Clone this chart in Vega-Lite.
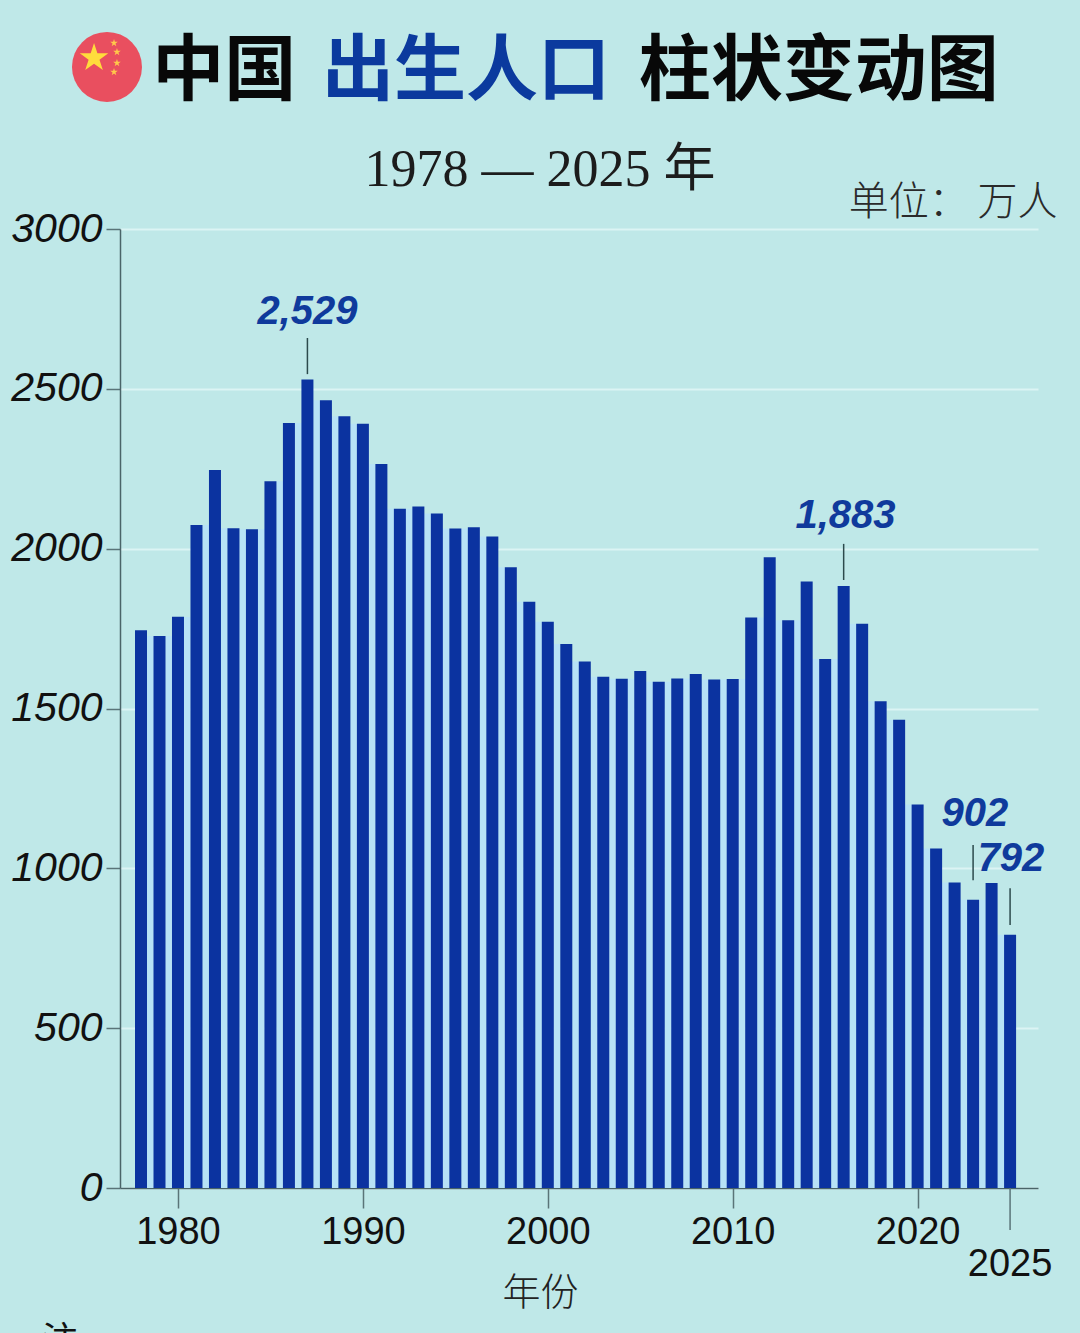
{
  "$schema": "https://vega.github.io/schema/vega-lite/v6.json",
  "width": 918,
  "height": 959,
  "autosize": "none",
  "padding": {"left": 120, "top": 229, "right": 42, "bottom": 145},
  "background": "#bfe8e8",
  "config": {"view": {"stroke": null}},
  "datasets": {
    "births": [
      {"year": 1978, "value": 1745}, {"year": 1979, "value": 1727}, {"year": 1980, "value": 1787},
      {"year": 1981, "value": 2074}, {"year": 1982, "value": 2246}, {"year": 1983, "value": 2064},
      {"year": 1984, "value": 2061}, {"year": 1985, "value": 2211}, {"year": 1986, "value": 2393},
      {"year": 1987, "value": 2529}, {"year": 1988, "value": 2464}, {"year": 1989, "value": 2414},
      {"year": 1990, "value": 2391}, {"year": 1991, "value": 2265}, {"year": 1992, "value": 2125},
      {"year": 1993, "value": 2132}, {"year": 1994, "value": 2110}, {"year": 1995, "value": 2063},
      {"year": 1996, "value": 2067}, {"year": 1997, "value": 2038}, {"year": 1998, "value": 1942},
      {"year": 1999, "value": 1834}, {"year": 2000, "value": 1771}, {"year": 2001, "value": 1702},
      {"year": 2002, "value": 1647}, {"year": 2003, "value": 1599}, {"year": 2004, "value": 1593},
      {"year": 2005, "value": 1617}, {"year": 2006, "value": 1584}, {"year": 2007, "value": 1594},
      {"year": 2008, "value": 1608}, {"year": 2009, "value": 1591}, {"year": 2010, "value": 1592},
      {"year": 2011, "value": 1785}, {"year": 2012, "value": 1973}, {"year": 2013, "value": 1776},
      {"year": 2014, "value": 1897}, {"year": 2015, "value": 1655}, {"year": 2016, "value": 1883},
      {"year": 2017, "value": 1765}, {"year": 2018, "value": 1523}, {"year": 2019, "value": 1465},
      {"year": 2020, "value": 1200}, {"year": 2021, "value": 1062}, {"year": 2022, "value": 956},
      {"year": 2023, "value": 902}, {"year": 2024, "value": 954}, {"year": 2025, "value": 792}
    ],
    "gaps": [
      {"year": 1978.5, "value": 1727}, {"year": 1979.5, "value": 1727}, {"year": 1980.5, "value": 1786},
      {"year": 1981.5, "value": 2074}, {"year": 1982.5, "value": 2064}, {"year": 1983.5, "value": 2061},
      {"year": 1984.5, "value": 2061}, {"year": 1985.5, "value": 2211}, {"year": 1986.5, "value": 2393},
      {"year": 1987.5, "value": 2464}, {"year": 1988.5, "value": 2414}, {"year": 1989.5, "value": 2391},
      {"year": 1990.5, "value": 2265}, {"year": 1991.5, "value": 2125}, {"year": 1992.5, "value": 2125},
      {"year": 1993.5, "value": 2110}, {"year": 1994.5, "value": 2063}, {"year": 1995.5, "value": 2063},
      {"year": 1996.5, "value": 2038}, {"year": 1997.5, "value": 1942}, {"year": 1998.5, "value": 1834},
      {"year": 1999.5, "value": 1771}, {"year": 2000.5, "value": 1702}, {"year": 2001.5, "value": 1647},
      {"year": 2002.5, "value": 1599}, {"year": 2003.5, "value": 1593}, {"year": 2004.5, "value": 1593},
      {"year": 2005.5, "value": 1584}, {"year": 2006.5, "value": 1584}, {"year": 2007.5, "value": 1594},
      {"year": 2008.5, "value": 1591}, {"year": 2009.5, "value": 1591}, {"year": 2010.5, "value": 1592},
      {"year": 2011.5, "value": 1785}, {"year": 2012.5, "value": 1776}, {"year": 2013.5, "value": 1776},
      {"year": 2014.5, "value": 1655}, {"year": 2015.5, "value": 1655}, {"year": 2016.5, "value": 1765},
      {"year": 2017.5, "value": 1523}, {"year": 2018.5, "value": 1465}, {"year": 2019.5, "value": 1200},
      {"year": 2020.5, "value": 1062}, {"year": 2021.5, "value": 956}, {"year": 2022.5, "value": 902},
      {"year": 2023.5, "value": 902}, {"year": 2024.5, "value": 792}
    ],
    "leaders": [
      {"year": 1987, "value": 2546, "end": 2659},
      {"year": 2016, "value": 1902, "end": 2015},
      {"year": 2023, "value": 963, "end": 1073},
      {"year": 2025, "value": 823, "end": 938}
    ],
    "callouts": [
      {"year": 1987, "value": 2702, "label": "2,529"},
      {"year": 2016.1, "value": 2064, "label": "1,883"},
      {"year": 2023.1, "value": 1132, "label": "902"},
      {"year": 2025.05, "value": 991, "label": "792"}
    ],
    "titleBlack": [
      {"year": 1982.5, "value": 3492, "label": "中国"},
      {"year": 2014.65, "value": 3492, "label": "柱状变动图"}
    ],
    "titleBlue": [
      {"year": 1995.58, "value": 3492, "label": "出生人口"}
    ],
    "subtitle": [{"year": 1999.58, "value": 3184.5, "label": "1978 — 2025 年"}],
    "unit": [{"year": 2021.92, "value": 3082, "label": "单位： 万人"}],
    "note": [{"year": 1973.62, "value": -481, "label": "注"}],
    "tick2025": [{"year": 2025, "value": 0, "end": -131}],
    "label2025": [{"year": 2025, "value": -275, "label": "2025"}],
    "flag": [{"year": 1976.16, "value": 3507}],
    "bigStar": [{"year": 1975.46, "value": 3535}],
    "smallStars": [
      {"year": 1976.54, "value": 3582},
      {"year": 1976.7, "value": 3554},
      {"year": 1976.7, "value": 3519},
      {"year": 1976.54, "value": 3491}
    ]
  },
  "encoding": {
    "x": {
      "field": "year",
      "type": "quantitative",
      "scale": {"domain": [1976.864, 2026.51], "nice": false, "zero": false, "padding": 0},
      "axis": {
        "values": [1980, 1990, 2000, 2010, 2020],
        "format": "d",
        "grid": false,
        "tickSize": 20,
        "tickColor": "#5a7478",
        "tickWidth": 1.5,
        "domainColor": "#4a6468",
        "domainWidth": 1.5,
        "labelFont": "Liberation Sans",
        "labelFontSize": 38,
        "labelColor": "#111111",
        "labelPadding": 5,
        "labelFlush": false,
        "labelOverlap": false,
        "title": "年份",
        "titleFont": "Noto Sans CJK SC",
        "titleFontSize": 38,
        "titleFontWeight": 300,
        "titleColor": "#222222",
        "titleX": 420,
        "titleY": 116,
        "titleBaseline": "alphabetic"
      }
    },
    "y": {
      "field": "value",
      "type": "quantitative",
      "scale": {"domain": [0, 3000], "nice": false},
      "axis": {
        "values": [0, 500, 1000, 1500, 2000, 2500, 3000],
        "grid": true,
        "gridColor": "#dcf4f4",
        "gridWidth": 2,
        "tickSize": 14,
        "tickColor": "#5a7478",
        "tickWidth": 1.5,
        "domainColor": "#4a6468",
        "domainWidth": 1.5,
        "labelFont": "Liberation Sans",
        "labelFontStyle": "italic",
        "labelFontSize": 41,
        "labelColor": "#111111",
        "labelPadding": 4,
        "labelOverlap": false,
        "format": "d",
        "title": null
      }
    }
  },
  "layer": [
    {
      "data": {"name": "gaps"},
      "mark": {"type": "bar", "orient": "vertical", "size": 7, "color": "#b7e2f6"}
    },
    {
      "data": {"name": "births"},
      "mark": {"type": "bar", "orient": "vertical", "size": 12, "color": "#0b33a0"}
    },
    {
      "data": {"name": "leaders"},
      "mark": {"type": "rule", "color": "#2c4a4c", "strokeWidth": 1.5},
      "encoding": {"y2": {"field": "end"}}
    },
    {
      "data": {"name": "callouts"},
      "mark": {"type": "text", "font": "Liberation Sans", "fontSize": 40, "fontWeight": "bold", "fontStyle": "italic", "color": "#0f3a9c", "baseline": "alphabetic"},
      "encoding": {"text": {"field": "label"}}
    },
    {
      "data": {"name": "tick2025"},
      "mark": {"type": "rule", "color": "#5a7478", "strokeWidth": 1.5},
      "encoding": {"y2": {"field": "end"}}
    },
    {
      "data": {"name": "label2025"},
      "mark": {"type": "text", "font": "Liberation Sans", "fontSize": 38, "color": "#111111", "baseline": "alphabetic"},
      "encoding": {"text": {"field": "label"}}
    },
    {
      "data": {"name": "titleBlack"},
      "mark": {"type": "text", "font": "Noto Sans CJK SC", "fontSize": 72, "fontWeight": "bold", "color": "#080808", "baseline": "middle"},
      "encoding": {"text": {"field": "label"}}
    },
    {
      "data": {"name": "titleBlue"},
      "mark": {"type": "text", "font": "Noto Sans CJK SC", "fontSize": 72, "fontWeight": "bold", "color": "#0b3a9e", "baseline": "middle"},
      "encoding": {"text": {"field": "label"}}
    },
    {
      "data": {"name": "subtitle"},
      "mark": {"type": "text", "font": "Liberation Serif, Noto Sans CJK SC", "fontSize": 52, "color": "#1c1c1c", "baseline": "middle"},
      "encoding": {"text": {"field": "label"}}
    },
    {
      "data": {"name": "unit"},
      "mark": {"type": "text", "font": "Noto Sans CJK SC", "fontSize": 40, "fontWeight": 300, "color": "#2a2a2a", "baseline": "middle"},
      "encoding": {"text": {"field": "label"}}
    },
    {
      "data": {"name": "note"},
      "mark": {"type": "text", "font": "Noto Sans CJK SC", "fontSize": 36, "color": "#111111", "baseline": "middle"},
      "encoding": {"text": {"field": "label"}}
    },
    {
      "data": {"name": "flag"},
      "mark": {"type": "point", "shape": "circle", "filled": true, "size": 4900, "color": "#e94f5f", "opacity": 1}
    },
    {
      "data": {"name": "bigStar"},
      "mark": {"type": "point", "shape": "M0,-1L0.224,-0.309L0.951,-0.309L0.363,0.118L0.588,0.809L0,0.382L-0.588,0.809L-0.363,0.118L-0.951,-0.309L-0.224,-0.309Z", "filled": true, "size": 900, "color": "#ffdc3c", "opacity": 1}
    },
    {
      "data": {"name": "smallStars"},
      "mark": {"type": "point", "shape": "M0,-1L0.224,-0.309L0.951,-0.309L0.363,0.118L0.588,0.809L0,0.382L-0.588,0.809L-0.363,0.118L-0.951,-0.309L-0.224,-0.309Z", "filled": true, "size": 64, "color": "#ffc94a", "opacity": 1}
    }
  ]
}
